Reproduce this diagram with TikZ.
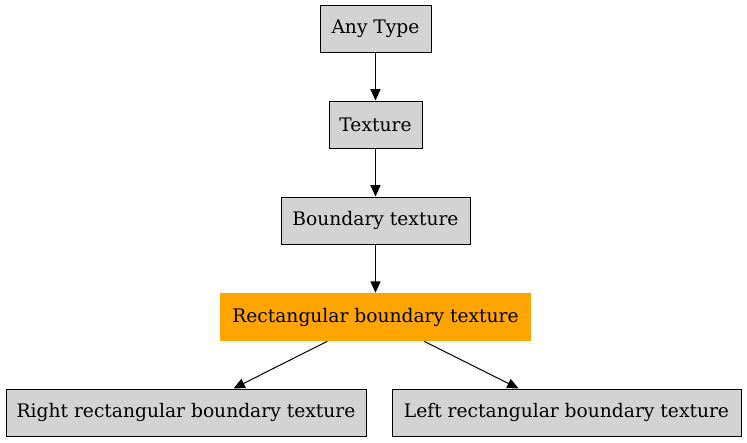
\documentclass[tikz,border=0pt]{standalone}
\usepackage{fontspec}
\setmainfont{DejaVu Serif}
\usetikzlibrary{arrows.meta}
\definecolor{boxgray}{RGB}{211,211,211}
\definecolor{boxorange}{RGB}{255,165,0}
\tikzset{
  typebox/.style={draw,line width=0.75pt,fill=boxgray,minimum height=35.25pt,inner sep=0pt,font=\fontsize{14}{16}\selectfont},
  hibox/.style={fill=boxorange,minimum height=36pt,inner sep=0pt,font=\fontsize{14}{16}\selectfont},
  link/.style={line width=0.75pt,-{Triangle[length=8.5pt,width=7.5pt]}}
}
\begin{document}
\begin{tikzpicture}[x=0.75pt,y=-0.75pt]
\useasboundingbox (0,0) rectangle (747,443);
%
\node[typebox,minimum width=83.25pt](any) at (375.5,28.5){Any Type};
\node[typebox,minimum width=69.75pt](tex) at (375.5,124.5){Texture};
\node[typebox,minimum width=141.75pt](bnd) at (375.5,220.5){Boundary texture};
\node[hibox,minimum width=233.25pt](rect) at (375.5,317){Rectangular boundary texture};
\node[typebox,minimum width=270pt](right) at (186,412.5){Right rectangular boundary texture};
\node[typebox,minimum width=261.75pt](left) at (566.5,412.5){Left rectangular boundary texture};
%
\draw[link](any)--(tex);
\draw[link](tex)--(bnd);
\draw[link](bnd)--(rect);
\draw[link](rect)--(right);
\draw[link](rect)--(left);
\end{tikzpicture}
\end{document}
